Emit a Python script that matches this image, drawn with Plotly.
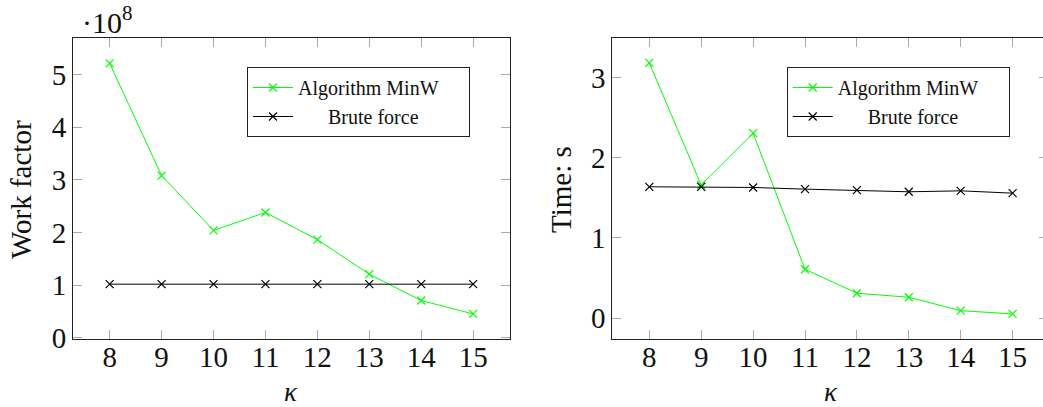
import plotly.graph_objects as go

kappa = [8, 9, 10, 11, 12, 13, 14, 15]
work_minw = [5.21e8, 3.08e8, 2.04e8, 2.38e8, 1.865e8, 1.21e8, 0.71e8, 0.456e8]
work_brute = [1.02e8, 1.02e8, 1.02e8, 1.02e8, 1.02e8, 1.02e8, 1.02e8, 1.02e8]
time_minw = [3.18, 1.66, 2.305, 0.61, 0.312, 0.262, 0.095, 0.054]
time_brute = [1.637, 1.637, 1.629, 1.608, 1.596, 1.575, 1.587, 1.558]
work_ticks = [0, 1e8, 2e8, 3e8, 4e8, 5e8]
work_ticktext = ["0", "1", "2", "3", "4", "5"]
time_ticks = [0, 1, 2, 3]
series_names = ["Algorithm MinW" + "\u00a0" * 5, "\u00a0" * 6 + "Brute force"]

W, H = 1043, 407
FONT = "Liberation Serif"
GREEN = "#00ff00"
BLACK = "#000000"
FRAME = "#222222"
TICK = "#aaaaaa"

fig = go.Figure()

def add_pair(xa, ya, y1, y2, legend):
    fig.add_trace(go.Scatter(
        x=kappa, y=y1, xaxis=xa, yaxis=ya, name=series_names[0], legend=legend,
        mode="lines+markers", line=dict(color=GREEN, width=1),
        marker=dict(symbol="x-thin", size=8, line=dict(color=GREEN, width=1.2))))
    fig.add_trace(go.Scatter(
        x=kappa, y=y2, xaxis=xa, yaxis=ya, name=series_names[1], legend=legend,
        mode="lines+markers", line=dict(color=BLACK, width=1),
        marker=dict(symbol="x-thin", size=8, line=dict(color=BLACK, width=1.2))))

add_pair("x", "y", work_minw, work_brute, "legend")
add_pair("x2", "y2", time_minw, time_brute, "legend2")
# invisible trace to activate the right-hand tick axis of the second panel
fig.add_trace(go.Scatter(x=[None], y=[None], xaxis="x2", yaxis="y3", showlegend=False,
                         hoverinfo="skip"))

def px_x(p):
    return p / W

def px_y(p):
    return 1 - p / H

tickfont = dict(family=FONT, size=29, color="#111111")
common_x = dict(tickvals=kappa, ticks="inside", ticklen=9, tickcolor=TICK, tickwidth=1,
                showline=True, linecolor=FRAME, linewidth=1, mirror="ticks",
                showgrid=False, zeroline=False, tickfont=tickfont, automargin=False,
                ticklabelstandoff=-8)
common_y = dict(ticks="inside", ticklen=9, tickcolor=TICK, tickwidth=1,
                showline=True, linecolor=FRAME, linewidth=1,
                showgrid=False, zeroline=False, tickfont=tickfont, automargin=False)

legfont = dict(family=FONT, size=20, color="#111111")
ydom = [px_y(339), px_y(38)]
fig.update_layout(
    width=W, height=H, margin=dict(l=0, r=0, t=0, b=0, autoexpand=False),
    paper_bgcolor="white", plot_bgcolor="white", showlegend=True,
    xaxis=dict(domain=[px_x(73), px_x(510)], range=[7.294, 15.71], anchor="y", **common_x),
    yaxis=dict(domain=ydom, range=[-0.02e8, 5.69e8], anchor="x", tickvals=work_ticks,
               ticktext=work_ticktext, mirror="ticks", **common_y),
    xaxis2=dict(domain=[px_x(612.3), 1.0], range=[7.287, 15.586], anchor="y2", **common_x),
    yaxis2=dict(domain=ydom, range=[-0.258, 3.49], anchor="x2", tickvals=time_ticks,
                mirror=False, **common_y),
    yaxis3=dict(overlaying="y2", side="right", anchor="free", position=1.0,
                range=[-0.258, 3.49], tickvals=time_ticks, ticks="inside", ticklen=4,
                tickcolor=TICK, showticklabels=False, showline=False, showgrid=False,
                zeroline=False, automargin=False),
    legend=dict(x=px_x(247), y=px_y(67), xanchor="left", yanchor="top",
                bordercolor=FRAME, borderwidth=1, bgcolor="white",
                font=legfont, tracegroupgap=0, itemwidth=40),
    legend2=dict(x=px_x(786.7), y=px_y(67), xanchor="left", yanchor="top",
                 bordercolor=FRAME, borderwidth=1, bgcolor="white",
                 font=legfont, tracegroupgap=0, itemwidth=40),
)

ann_font = dict(family=FONT, size=29, color="#111111")
fig.add_annotation(text="Work factor", textangle=-90, xref="paper", yref="paper",
                   x=px_x(21), y=px_y(190), xanchor="center", yanchor="middle",
                   showarrow=False, font=ann_font)
fig.add_annotation(text="Time: s", textangle=-90, xref="paper", yref="paper",
                   x=px_x(561), y=px_y(190), xanchor="center", yanchor="middle",
                   showarrow=False, font=ann_font)
for xr in ["x", "x2"]:
    fig.add_annotation(text="<i>κ</i>", xref=xr, yref="paper", x=11.5, y=px_y(392),
                       xanchor="center", yanchor="middle", showarrow=False,
                       font=dict(family=FONT, size=27, color="#111111"))
fig.add_annotation(text="·10<sup>8</sup>", xref="paper", yref="paper", x=px_x(80),
                   y=px_y(20), xanchor="left", yanchor="middle", showarrow=False,
                   font=dict(family=FONT, size=30, color="#111111"))

fig.write_html("out.html")
